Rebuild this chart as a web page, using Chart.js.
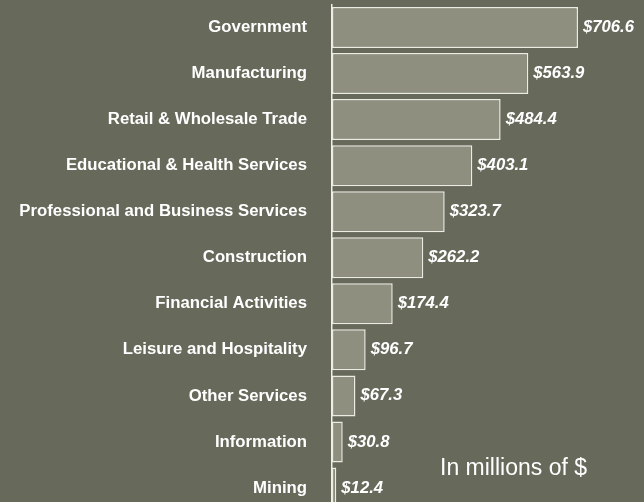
<!DOCTYPE html>
<html>
<head>
<meta charset="utf-8">
<script src="https://cdn.jsdelivr.net/npm/chart.js@4"></script>
<style>
  html, body { margin: 0; padding: 0; background: #67695b; overflow: hidden; }
  #wrap { width: 644px; height: 502px; overflow: hidden; }
</style>
</head>
<body>
<div id="wrap"><canvas id="sectorBar" width="644" height="520"></canvas></div>
<script>
// sectors and values (in millions of $)
const sectors = [
    'Government',
    'Manufacturing',
    'Retail & Wholesale Trade',
    'Educational & Health Services',
    'Professional and Business Services',
    'Construction',
    'Financial Activities',
    'Leisure and Hospitality',
    'Other Services',
    'Information',
    'Mining'
];
const amounts = [706.6, 563.9, 484.4, 403.1, 323.7, 262.2, 174.4, 96.7, 67.3, 30.8, 12.4];
const unitNote = 'In millions of $';

const FONT = '"Liberation Sans", Arial, sans-serif';

// draws the $ value at the end of each bar plus the unit note
const valueLabels = {
    id: 'valueLabels',
    afterDatasetsDraw(chart) {
        const ctx = chart.ctx;
        const meta = chart.getDatasetMeta(0);
        ctx.save();
        ctx.fillStyle = '#ffffff';
        ctx.font = 'italic bold 16.7px ' + FONT;
        ctx.textAlign = 'left';
        ctx.textBaseline = 'middle';
        meta.data.forEach((bar, i) => {
            ctx.fillText('$' + amounts[i].toFixed(1), bar.x + 5, bar.y);
        });
        ctx.font = '23px ' + FONT;
        ctx.fillText(unitNote, 440, 469);
        ctx.restore();
    }
};

const ctx = document.getElementById('sectorBar').getContext('2d');
const chart = new Chart(ctx, {
    type: 'bar',
    data: {
        labels: sectors,
        datasets: [{
            data: amounts,
            backgroundColor: '#8f8f80',
            borderColor: '#ececE4',
            borderWidth: 1.5,
            borderSkipped: false,
            categoryPercentage: 1,
            barPercentage: 0.89
        }]
    },
    options: {
        indexAxis: 'y',
        responsive: false,
        animation: false,
        layout: {
            padding: { top: 4.5, bottom: 9, right: 33.5, left: 0 }
        },
        plugins: {
            legend: { display: false },
            tooltip: { enabled: false }
        },
        scales: {
            x: {
                display: false,
                min: 0,
                max: 800
            },
            y: {
                afterFit: function(scale) {
                    scale.width = 332;
                    // no extra room above/below for the tick labels
                    scale.paddingTop = 0;
                    scale.paddingBottom = 0;
                },
                grid: { display: false, drawTicks: false },
                border: { display: true, color: '#f0f0ea', width: 1.5 },
                ticks: {
                    color: '#ffffff',
                    padding: 25,
                    font: { family: FONT, size: 16.75, weight: 'bold' }
                }
            }
        }
    },
    plugins: [valueLabels]
});
</script>
</body>
</html>
